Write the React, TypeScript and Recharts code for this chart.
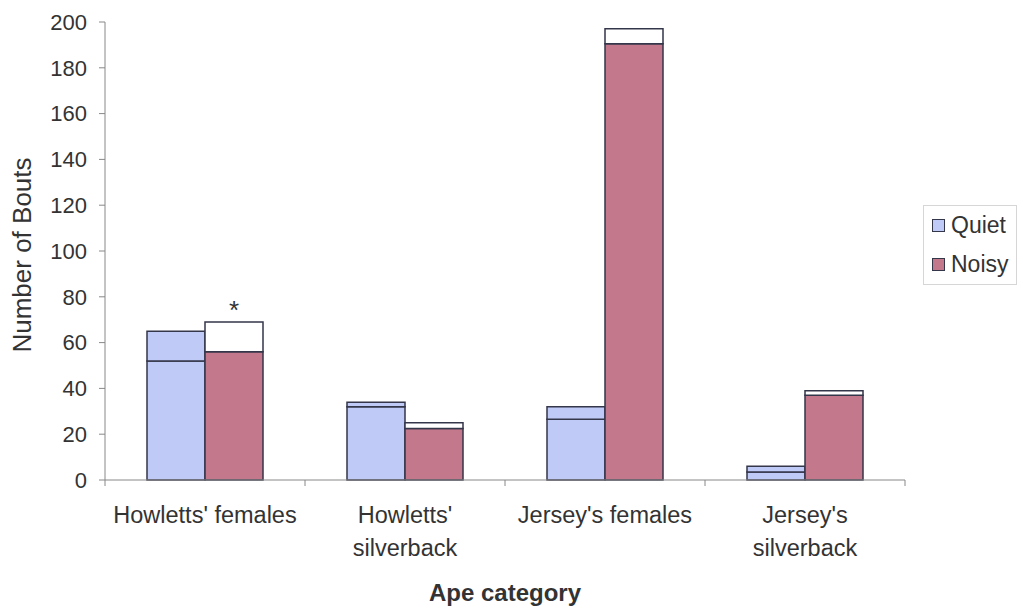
import React from "react";
import { BarChart, Bar, XAxis, YAxis, Legend, LabelList } from "recharts";

const categories = ["Howletts' females", "Howletts' silverback", "Jersey's females", "Jersey's silverback"];
const tickLabels = ["Howletts' females", "Howletts'\nsilverback", "Jersey's females", "Jersey's\nsilverback"];
const quietLower = [52, 32, 26.5, 3.5];
const quietTotal = [65, 34, 32, 6];
const noisyLower = [56, 22.5, 190.5, 37];
const noisyTotal = [69, 25, 197, 39];
const marks = ["*", "", "", ""];
const yTicks = [0, 20, 40, 60, 80, 100, 120, 140, 160, 180, 200];
const seriesNames = ["Quiet", "Noisy"];

const BLUE = "#bfcaf6";
const PINK = "#c3788c";
const EDGE = "#34364a";
const TEXT = "#333333";
const FONT = "'Liberation Sans', Arial, sans-serif";

const data = categories.map((c, i) => ({
  name: c,
  label: tickLabels[i],
  quietLow: quietLower[i],
  quietUp: quietTotal[i] - quietLower[i],
  noisyLow: noisyLower[i],
  noisyUp: noisyTotal[i] - noisyLower[i],
  mark: marks[i],
}));

const XTick = (props: any) => {
  const { x, y, payload, index } = props;
  const off = payload && typeof payload.offset === "number" ? payload.offset : 0;
  const lines = String(tickLabels[index] ?? payload.value).split("\n");
  return (
    <g>
      <line x1={x - off} x2={x - off} y1={y - 8} y2={y - 2} stroke="#888" />
      {index === categories.length - 1 && (
        <line x1={x + off} x2={x + off} y1={y - 8} y2={y - 2} stroke="#888" />
      )}
      {lines.map((l, k) => (
        <text key={k} x={x} y={y + 35 + k * 33} textAnchor="middle" fill={TEXT} fontSize={23.5} fontFamily={FONT}>
          {l}
        </text>
      ))}
    </g>
  );
};

const LegendBox = () => {
  const colors = [BLUE, PINK];
  return (
    <div
      style={{
        border: "1px solid #d6d6d6",
        width: 94,
        height: 80,
        fontFamily: FONT,
        fontSize: 23,
        color: TEXT,
        background: "#fff",
        boxSizing: "border-box",
      }}
    >
      {seriesNames.map((n, i) => (
        <div key={n} style={{ display: "flex", alignItems: "center", height: 39, paddingLeft: 8 }}>
          <span
            style={{
              display: "inline-block",
              width: 11,
              height: 11,
              background: colors[i],
              border: `1px solid ${EDGE}`,
              marginRight: 6,
            }}
          />
          <span>{n}</span>
        </div>
      ))}
    </div>
  );
};

export default function App() {
  return (
    <div style={{ position: "absolute", left: 0, top: 0, width: 1023, height: 609, background: "#fff" }}>
      <BarChart
        width={1023}
        height={609}
        data={data}
        margin={{ top: 22, right: 118, bottom: 0, left: 0 }}
        barSize={58}
        barGap={0}
      >
        <XAxis
          dataKey="name"
          height={129}
          axisLine={{ stroke: "#888" }}
          tickLine={false}
          interval={0}
          tick={<XTick />}
          label={{
            value: "Ape category",
            position: "insideBottom",
            offset: 8,
            fill: TEXT,
            fontSize: 24,
            fontWeight: "bold",
            fontFamily: FONT,
          }}
        />
        <YAxis
          width={105}
          domain={[0, 200]}
          ticks={yTicks}
          interval={0}
          axisLine={{ stroke: "#888" }}
          tickLine={{ stroke: "#888" }}
          tickSize={6}
          tickMargin={12}
          tick={{ fill: TEXT, fontSize: 22, fontFamily: FONT }}
          label={{
            content: (p: any) => {
              const vb = p.viewBox || { x: 0, y: 22, height: 458 };
              const cx = vb.x + 22;
              const cy = vb.y + vb.height / 2 + 4;
              return (
                <text
                  x={cx}
                  y={cy}
                  transform={`rotate(-90 ${cx} ${cy})`}
                  textAnchor="middle"
                  dominantBaseline="central"
                  fill={TEXT}
                  fontSize={26}
                  fontFamily={FONT}
                >
                  Number of Bouts
                </text>
              );
            },
          }}
        />
        <Legend
          layout="horizontal"
          verticalAlign="middle"
          align="center"
          content={<LegendBox />}
          wrapperStyle={{ position: "absolute", left: 923, top: 205, width: 96, height: 82 }}
        />
        <Bar dataKey="quietLow" stackId="q" fill={BLUE} stroke={EDGE} strokeWidth={1.5} name="Quiet" isAnimationActive={false} />
        <Bar dataKey="quietUp" stackId="q" fill={BLUE} stroke={EDGE} strokeWidth={1.5} legendType="none" isAnimationActive={false} />
        <Bar dataKey="noisyLow" stackId="n" fill={PINK} stroke={EDGE} strokeWidth={1.5} name="Noisy" isAnimationActive={false} />
        <Bar dataKey="noisyUp" stackId="n" fill="#ffffff" stroke={EDGE} strokeWidth={1.5} legendType="none" isAnimationActive={false}>
          <LabelList dataKey="mark" position="top" offset={3} fill={TEXT} fontSize={26} fontFamily={FONT} />
        </Bar>
      </BarChart>
    </div>
  );
}
